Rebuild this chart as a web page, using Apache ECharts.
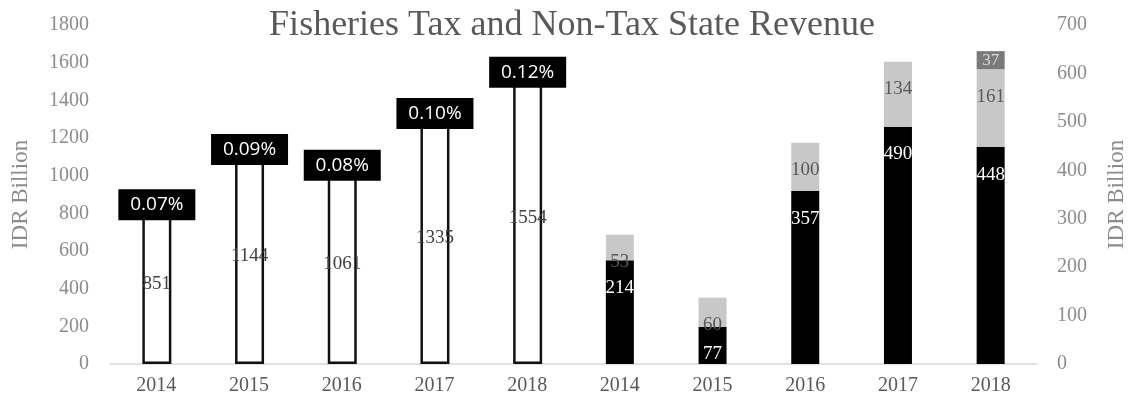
<!DOCTYPE html>
<html>
<head>
<meta charset="utf-8">
<script src="https://cdn.jsdelivr.net/npm/echarts@6/dist/echarts.min.js"></script>
<style>html,body{margin:0;padding:0;background:#fff}#c{width:1129px;height:403px}</style>
</head>
<body>
<div id="c"></div>
<script>
const categories = ['2014','2015','2016','2017','2018','2014','2015','2016','2017','2018'];
const totalRevenue = [851, 1144, 1061, 1335, 1554, '-', '-', '-', '-', '-'];
const shareOfState = ['0.07%', '0.09%', '0.08%', '0.10%', '0.12%'];
const seriesBlack = ['-', '-', '-', '-', '-', 214, 77, 357, 490, 448];
const seriesGray = ['-', '-', '-', '-', '-', 53, 60, 100, 134, 161];
const seriesDark = ['-', '-', '-', '-', '-', '-', '-', '-', '-', 37];
const leftTicks = [0, 1800, 200];
const rightTicks = [0, 700, 100];

const serif = '"Liberation Serif", "DejaVu Serif", serif';
const chart = echarts.init(document.getElementById('c'));
chart.setOption({
  animation: false,
  title: {
    text: 'Fisheries Tax and Non-Tax State Revenue',
    left: 567, textAlign: 'center', top: 3,
    textStyle: { fontFamily: serif, fontWeight: 'normal', fontSize: 36, color: '#595959' }
  },
  grid: { left: 110, right: 92, top: 25, bottom: 39, containLabel: false, outerBoundsMode: 'none' },
  xAxis: {
    type: 'category', data: categories,
    axisLine: { lineStyle: { color: '#d9d9d9', width: 1.5 } },
    axisTick: { show: false },
    axisLabel: { fontFamily: serif, fontSize: 20, color: '#595959', margin: 12 }
  },
  yAxis: [
    {
      type: 'value', min: leftTicks[0], max: leftTicks[1], interval: leftTicks[2],
      name: 'IDR Billion', nameLocation: 'middle', nameGap: 78, nameRotate: 90,
      nameTextStyle: { fontFamily: serif, fontSize: 23, color: '#8c8c8c' },
      splitLine: { show: false }, axisLine: { show: false }, axisTick: { show: false },
      axisLabel: { fontFamily: serif, fontSize: 20, color: '#8c8c8c', margin: 21, formatter: v => String(v) }
    },
    {
      type: 'value', min: rightTicks[0], max: rightTicks[1], interval: rightTicks[2],
      name: 'IDR Billion', nameLocation: 'middle', nameGap: 68, nameRotate: 90,
      nameTextStyle: { fontFamily: serif, fontSize: 23, color: '#8c8c8c' },
      splitLine: { show: false }, axisLine: { show: false }, axisTick: { show: false },
      axisLabel: { fontFamily: serif, fontSize: 20, color: '#8c8c8c', margin: 20, formatter: v => String(v) }
    }
  ],
  series: [
    {
      type: 'bar', yAxisIndex: 0, data: totalRevenue, barWidth: 29, barGap: '-100%',
      itemStyle: { color: '#ffffff', borderColor: '#111', borderWidth: 2.5 },
      label: { show: true, position: 'inside', fontFamily: serif, fontSize: 19, color: '#404040' },
      z: 2
    },
    {
      type: 'bar', yAxisIndex: 0, data: totalRevenue, barWidth: 29, barGap: '-100%',
      itemStyle: { color: 'rgba(0,0,0,0)' },
      label: {
        show: true, position: 'top', distance: -16.5,
        formatter: p => shareOfState[p.dataIndex],
        fontFamily: '"Open Sans", "DejaVu Sans", sans-serif', fontSize: 19, color: '#fff',
        backgroundColor: '#000', padding: [6, 8, 6, 8], width: 61, align: 'center'
      },
      z: 3
    },
    {
      type: 'bar', yAxisIndex: 1, stack: 'nt', data: seriesBlack, barWidth: 28, barGap: '-100%',
      itemStyle: { color: '#000' },
      label: { show: true, position: 'insideTop', distance: 18, fontFamily: serif, fontSize: 19, color: '#fff' }
    },
    {
      type: 'bar', yAxisIndex: 1, stack: 'nt', data: seriesGray, barWidth: 28, barGap: '-100%',
      itemStyle: { color: '#c8c8c8' },
      label: { show: true, position: 'insideTop', distance: 18, fontFamily: serif, fontSize: 19, color: '#595959' }
    },
    {
      type: 'bar', yAxisIndex: 1, stack: 'nt', data: seriesDark, barWidth: 28, barGap: '-100%',
      itemStyle: { color: '#7a7a7a' },
      label: { show: true, position: 'inside', fontFamily: serif, fontSize: 17, color: '#d9d9d9' }
    }
  ]
});
</script>
</body>
</html>
